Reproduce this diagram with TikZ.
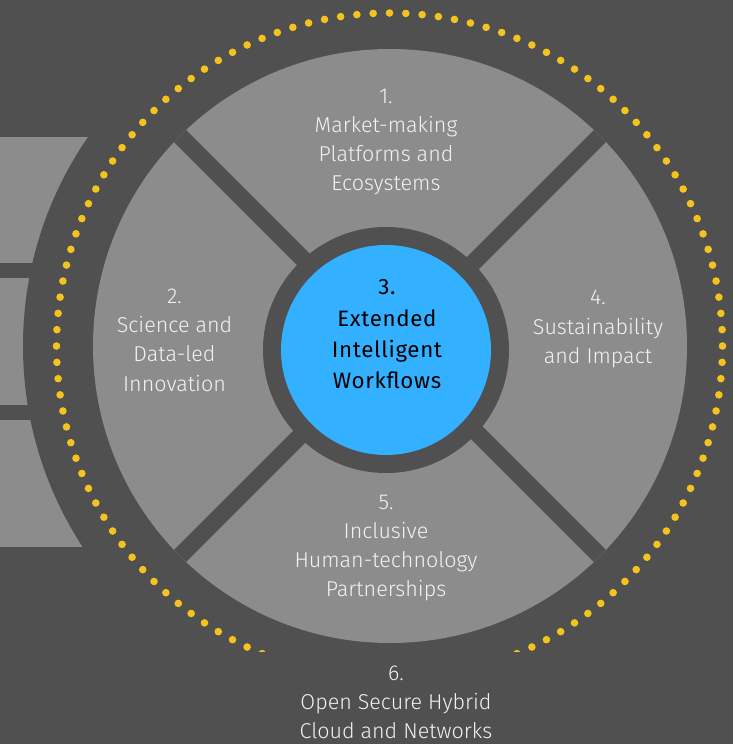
\documentclass[tikz,border=0pt]{standalone}
\usepackage{fontspec}
\IfFontExistsTF{Fira Sans Light}{\setmainfont{Fira Sans Light}}{%
  \IfFontExistsTF{Lato Light}{\setmainfont{Lato Light}}{%
    \IfFontExistsTF{Open Sans Light}{\setmainfont{Open Sans Light}}{\setmainfont{Fira Sans}}}}
\newfontfamily\regfont[LetterSpace=3]{Fira Sans}
\definecolor{bg}{RGB}{80,80,80}
\definecolor{lightg}{RGB}{140,140,140}
\definecolor{dotc}{RGB}{244,196,30}
\definecolor{bluec}{RGB}{51,176,255}
\definecolor{txtw}{RGB}{242,242,242}
\tikzset{
  lbl/.style={align=center, text=txtw, inner sep=0pt, font=\fontsize{21.5}{29.3}\selectfont},
  ctr/.style={align=center, text=black, inner sep=0pt, font=\regfont\fontsize{22.3}{31.3}\selectfont},
}
\begin{document}
\begin{tikzpicture}[x=1pt,y=-1pt]
\fill[bg] (0,0) rectangle (733,744);
\useasboundingbox (0,0) rectangle (733,744);
% left rectangles
\fill[lightg] (0,137) rectangle (200,263);
\fill[lightg] (0,278) rectangle (200,405);
\fill[lightg] (0,420) rectangle (200,547);
\fill[bg] (391,346) circle[radius=368pt];
% dotted ring
\begin{scope}
\clip (0,0) rectangle (733,651.5);
\foreach \i in {0,...,127}
  \fill[dotc] (389.5,346) ++(\i*2.8125:333pt) circle[radius=3.8pt];
\end{scope}
% light disk with bands
\fill[lightg] (390,346) circle[radius=297pt];
\begin{scope}
\clip (390,346) circle[radius=297pt];
\draw[bg, line width=17pt] (390,346) ++(45:320pt) -- ++(225:640pt);
\draw[bg, line width=17pt] (390,346) ++(135:320pt) -- ++(315:640pt);
\end{scope}
% centre
\fill[bg] (386,350) circle[radius=123pt];
\fill[bluec] (386,350) circle[radius=105pt];
% labels
\node[lbl] (t1) at (386,142) {1.\\Market-making\\Platforms and\\Ecosystems};
\node[lbl] (t2) at (174.5,340) {2.\\Science and\\Data-led\\Innovation};
\node[ctr] (t3) at (387,334.5) {3.\\Extended\\Intelligent\\Workflows};
\node[lbl] (t4) at (598,329) {4.\\Sustainability\\and Impact};
\node[lbl] (t5) at (386,548) {5.\\Inclusive\\Human-technology\\Partnerships};
\node[lbl] (t6) at (396,702.5) {6.\\Open Secure Hybrid\\Cloud and Networks};
\end{tikzpicture}
\end{document}
